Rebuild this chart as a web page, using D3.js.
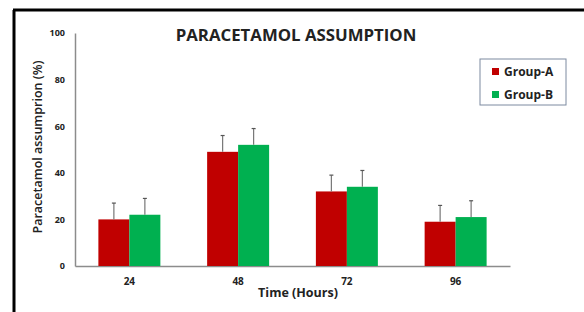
<!DOCTYPE html>
<html>
<head>
<meta charset="utf-8">
<script src="https://cdn.jsdelivr.net/npm/d3@7"></script>
<style>
  body { margin: 0; background: #fff; }
  text { font-family: "Open Sans", "Liberation Sans", sans-serif; font-weight: bold; fill: #222; }
</style>
</head>
<body>
<div class="chart"></div>
<script>
// chart data
var hours = ["24", "48", "72", "96"];
var groupNames = ["Group-A", "Group-B"];
var groupA = [20, 49, 32, 19];
var groupB = [22, 52, 34, 21];
var errA = [7, 7, 7, 7];
var errB = [7, 7, 7, 7];
var yTicks = [0, 20, 40, 60, 80, 100];

var colors = ["#C00000", "#00B050"];

var svgWidth = 584;
var svgHeight = 312;

var margin = { top: 33, right: 74, bottom: 46, left: 75 };
var width = svgWidth - margin.left - margin.right;
var height = svgHeight - margin.top - margin.bottom;

var svg = d3.select(".chart")
  .append("svg")
  .attr("width", svgWidth)
  .attr("height", svgHeight);

// frame lines (top and left)
svg.append("line").attr("x1", 13).attr("x2", svgWidth).attr("y1", 10).attr("y2", 10)
  .attr("stroke", "#000").attr("stroke-width", 3);
svg.append("line").attr("x1", 14).attr("x2", 14).attr("y1", 10).attr("y2", svgHeight)
  .attr("stroke", "#000").attr("stroke-width", 3);

var chartGroup = svg.append("g")
  .attr("transform", `translate(${margin.left}, ${margin.top})`);

// scales
var xScale = d3.scaleBand()
  .domain(hours)
  .range([0, width])
  .paddingInner(0.43)
  .paddingOuter(0.215);

var xSub = d3.scaleBand()
  .domain(groupNames)
  .range([0, xScale.bandwidth()]);

var yScale = d3.scaleLinear()
  .domain([0, 100])
  .range([height, 0]);

// axes
var leftAxis = d3.axisLeft(yScale).tickValues(yTicks).tickSize(0).tickPadding(10);
var bottomAxis = d3.axisBottom(xScale).tickSize(0).tickPadding(12);

var yAxisG = chartGroup.append("g").call(leftAxis);
yAxisG.select(".domain").attr("stroke", "#8c8c8c").attr("stroke-width", 1.5);
yAxisG.selectAll("text").style("font-size", "9px").attr("fill", "#222");

var xAxisG = chartGroup.append("g")
  .attr("transform", `translate(0, ${height})`)
  .call(bottomAxis);
xAxisG.select(".domain").attr("stroke", "#8c8c8c").attr("stroke-width", 1.5);
xAxisG.selectAll("text").style("font-size", "10px").attr("fill", "#222");

// bars
var series = [
  { name: groupNames[0], values: groupA, errs: errA, color: colors[0] },
  { name: groupNames[1], values: groupB, errs: errB, color: colors[1] }
];

series.forEach(function(s) {
  var g = chartGroup.append("g");
  g.selectAll("rect")
    .data(hours)
    .enter()
    .append("rect")
    .attr("x", (d) => xScale(d) + xSub(s.name))
    .attr("y", (d, i) => yScale(s.values[i]))
    .attr("width", xSub.bandwidth())
    .attr("height", (d, i) => height - yScale(s.values[i]))
    .attr("fill", s.color);

  // error bars
  g.selectAll("line.err")
    .data(hours)
    .enter()
    .append("line")
    .attr("class", "err")
    .attr("x1", (d) => xScale(d) + xSub(s.name) + xSub.bandwidth() / 2)
    .attr("x2", (d) => xScale(d) + xSub(s.name) + xSub.bandwidth() / 2)
    .attr("y1", (d, i) => yScale(s.values[i]))
    .attr("y2", (d, i) => yScale(s.values[i] + s.errs[i]))
    .attr("stroke", "#777")
    .attr("stroke-width", 1.2);

  g.selectAll("line.cap")
    .data(hours)
    .enter()
    .append("line")
    .attr("class", "cap")
    .attr("x1", (d) => xScale(d) + xSub(s.name) + xSub.bandwidth() / 2 - 2)
    .attr("x2", (d) => xScale(d) + xSub(s.name) + xSub.bandwidth() / 2 + 2)
    .attr("y1", (d, i) => yScale(s.values[i] + s.errs[i]))
    .attr("y2", (d, i) => yScale(s.values[i] + s.errs[i]))
    .attr("stroke", "#555")
    .attr("stroke-width", 1.2);
});

// title
svg.append("text")
  .attr("x", 296)
  .attr("y", 41)
  .attr("text-anchor", "middle")
  .style("font-size", "16.8px")
  .text("PARACETAMOL ASSUMPTION");

// axis titles
svg.append("text")
  .attr("transform", "translate(42, 147) rotate(-90)")
  .attr("text-anchor", "middle")
  .style("font-size", "12.5px")
  .style("font-weight", "600")
  .text("Paracetamol assumprion (%)");

svg.append("text")
  .attr("x", 298)
  .attr("y", 297)
  .attr("text-anchor", "middle")
  .style("font-size", "12.5px")
  .text("Time (Hours)");

// legend
var legend = svg.append("g").attr("transform", "translate(480, 59)");
legend.append("rect")
  .attr("width", 86)
  .attr("height", 46)
  .attr("fill", "#fff")
  .attr("stroke", "#7d8aa0")
  .attr("stroke-width", 1);

groupNames.forEach(function(name, i) {
  legend.append("rect")
    .attr("x", 12)
    .attr("y", 9 + i * 23)
    .attr("width", 7)
    .attr("height", 7)
    .attr("fill", colors[i]);
  legend.append("text")
    .attr("x", 24)
    .attr("y", 17 + i * 23)
    .style("font-size", "12px")
    .text(name);
});
</script>
</body>
</html>
